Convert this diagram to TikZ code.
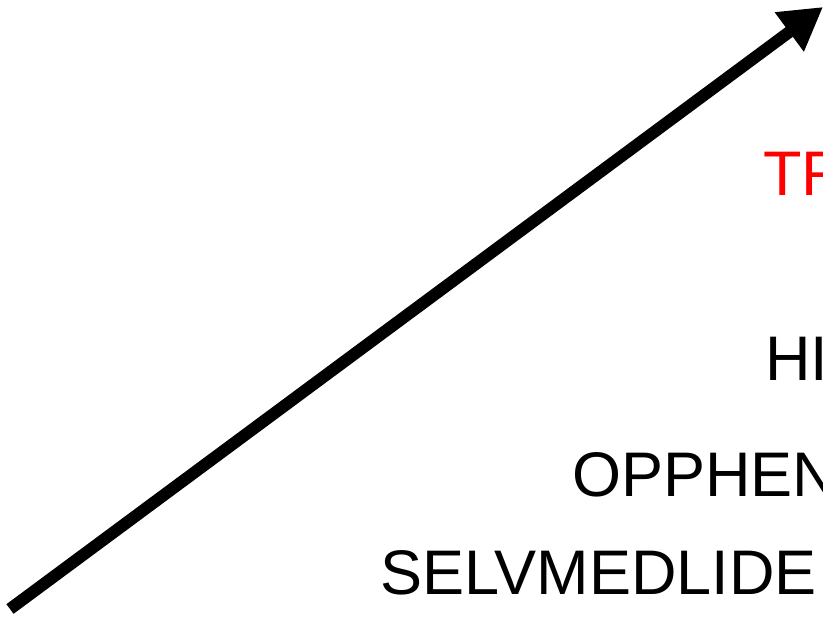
\documentclass[tikz,border=0pt]{standalone}
\usepackage{fontspec}
\setmainfont{Liberation Sans}
\usetikzlibrary{arrows.meta}
\begin{document}
\begin{tikzpicture}[x=1pt,y=1pt,
  lbl/.style={anchor=base west,inner sep=0pt,font=\fontsize{63}{70}\selectfont}]
\useasboundingbox (0,0) rectangle (823,618);
\clip (0,0) rectangle (823,618);
\fill[white] (0,0) rectangle (823,618);
\coordinate (s) at (10,9);
\coordinate (e) at (823,611);
\draw[line width=12pt,-{Triangle[length=42pt,width=46pt]}] (s) -- (e);
\node[lbl,text=red] (t1) at (763,422) {TR};
\node[lbl] (t2) at (765,237) {HI};
\node[lbl] (t3) at (572,121) {OPPHEN};
\node[lbl] (t4) at (380,23) {SELVMEDLIDE};
\end{tikzpicture}
\end{document}
